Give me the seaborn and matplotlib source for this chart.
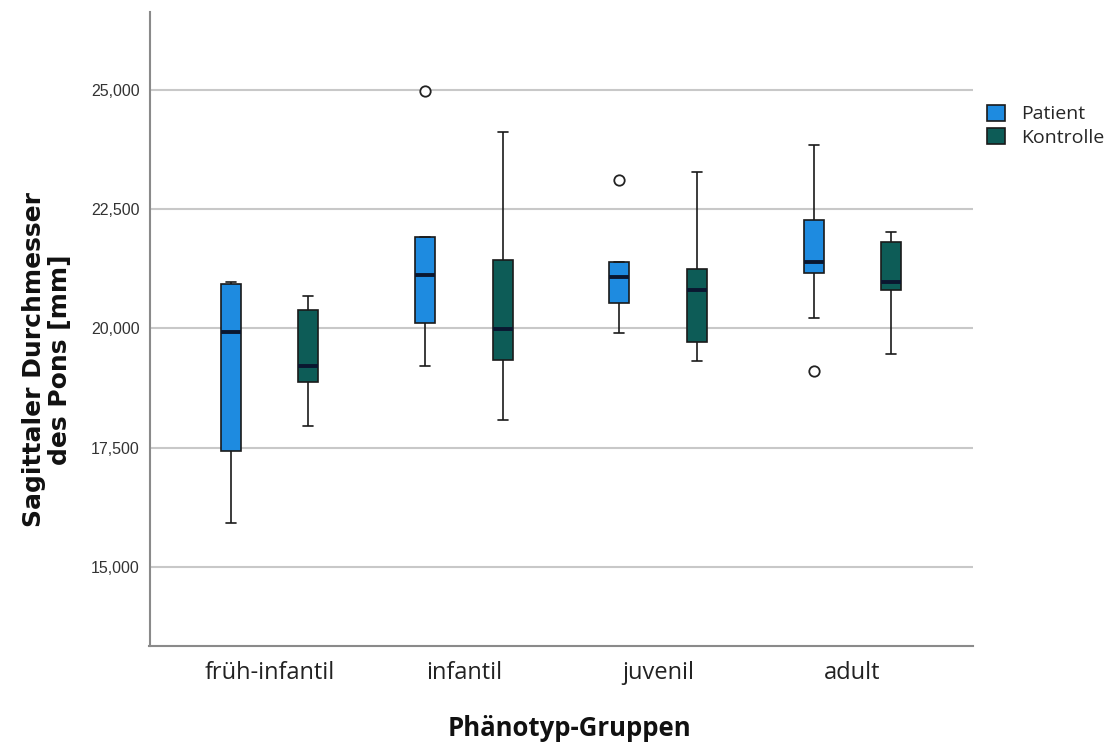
import matplotlib
matplotlib.use("Agg")
import matplotlib.pyplot as plt
import seaborn as sns
import pandas as pd

# ---- data ----
groups = ["früh-infantil", "infantil", "juvenil", "adult"]
hue_levels = ["Patient", "Kontrolle"]

patient_min = [15910, 19207, 19899, 20227]
patient_q1 = [17429, 20116, 20542, 21171]
patient_med = [19933, 21117, 21087, 21390]
patient_q3 = [20940, 21921, 21402, 22278]
patient_max = [20980, 21921, 21402, 23852]

kontrolle_min = [17960, 18080, 19318, 19459]
kontrolle_q1 = [18871, 19339, 19723, 20802]
kontrolle_med = [19219, 19983, 20808, 20982]
kontrolle_q3 = [20388, 21438, 21243, 21810]
kontrolle_max = [20689, 24131, 23291, 22032]

outlier_group = ["infantil", "juvenil", "adult"]
outlier_hue = ["Patient", "Patient", "Patient"]
outlier_value = [24992, 23117, 19114]

yticks = [15000, 17500, 20000, 22500, 25000]

# ---- build long table ----
rows = []
summ = {
    "Patient": [patient_min, patient_q1, patient_med, patient_q3, patient_max],
    "Kontrolle": [kontrolle_min, kontrolle_q1, kontrolle_med, kontrolle_q3, kontrolle_max],
}
for h in hue_levels:
    for i, g in enumerate(groups):
        for arr in summ[h]:
            rows.append({"Gruppe": g, "Typ": h, "Wert": arr[i]})
df = pd.DataFrame(rows)
df_out = pd.DataFrame({"Gruppe": outlier_group, "Typ": outlier_hue, "Wert": outlier_value})

sns.set_style("white")
plt.rcParams["font.family"] = ["DejaVu Sans"]

palette = {"Patient": "#1e8be0", "Kontrolle": "#0d5c57"}

fig = plt.figure(figsize=(11.12, 7.47), dpi=100)
ax = fig.add_axes([149.5 / 1112, 1 - 646 / 747, 823.5 / 1112, 634.3 / 747])

sns.boxplot(
    data=df, x="Gruppe", y="Wert", hue="Typ", order=groups, hue_order=hue_levels,
    palette=palette, whis=(0, 100), width=0.8, gap=0.74, dodge=True,
    linecolor="#1a1a1a", linewidth=1.2, saturation=1,
    medianprops={"color": "#0a1730", "linewidth": 2.8},
    ax=ax,
)
sns.stripplot(
    data=df_out, x="Gruppe", y="Wert", hue="Typ", order=groups, hue_order=hue_levels,
    palette={"Patient": "white", "Kontrolle": "white"}, dodge=True, jitter=False,
    size=7.5, linewidth=1.3, edgecolor="#222222", legend=False, ax=ax, zorder=5,
)

ax.set_xlim(-0.6176, 3.62)
ax.set_ylim(13335, 26650)
ax.set_yticks(yticks)
ax.set_yticklabels([f"{v:,}" for v in yticks], family="Liberation Sans", fontsize=11.5, color="#333333")
ax.set_xticks(range(len(groups)))
ax.set_xticklabels(groups, family="Open Sans", fontsize=17, color="#222222")
ax.tick_params(axis="y", length=0, pad=7)
ax.tick_params(axis="x", length=0, pad=11)

ax.yaxis.grid(True, color="#c8c8c8", linewidth=1.5)
ax.xaxis.grid(False)
ax.set_axisbelow(True)
for s in ["top", "right"]:
    ax.spines[s].set_visible(False)
for s in ["left", "bottom"]:
    ax.spines[s].set_color("#8a8a8a")
    ax.spines[s].set_linewidth(1.5)

ax.set_ylabel("Sagittaler Durchmesser\ndes Pons [mm]", family="DejaVu Sans", fontweight="bold",
              fontsize=18, color="#111111", multialignment="center", linespacing=1.1)
ax.yaxis.set_label_coords(-0.094, 0.451)
ax.set_xlabel("Phänotyp-Gruppen", family="Open Sans", fontweight="bold", fontsize=18.5, color="#111111")
ax.xaxis.set_label_coords(0.51, -0.108)

sns.move_legend(
    ax, loc="upper left", bbox_to_anchor=((987 - 149.5) / 823.5, (646 - 105) / 634.3),
    frameon=False, title=None, borderpad=0, borderaxespad=0,
    handlelength=0.9, handleheight=0.85, handletextpad=0.85, labelspacing=0.25,
    prop={"family": "Open Sans", "size": 14},
)

fig.savefig("out.png", dpi=100)
